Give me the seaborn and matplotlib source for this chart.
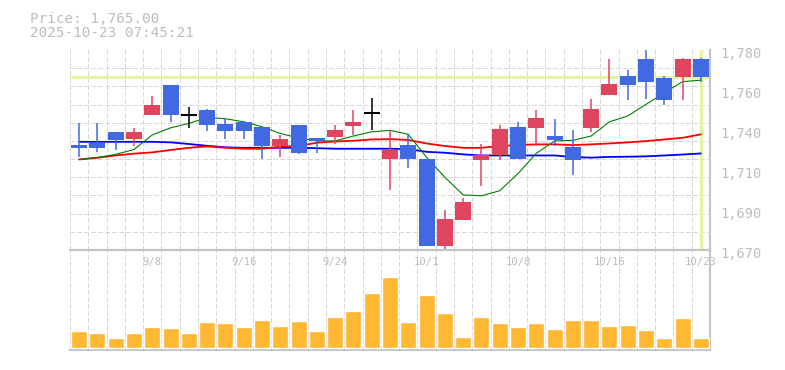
import numpy as np
import pandas as pd
import seaborn as sns
import matplotlib
matplotlib.use('Agg')
import matplotlib.pyplot as plt
from matplotlib.transforms import ScaledTranslation

# trading days shown on the chart
dates = ['9/2', '9/3', '9/4', '9/5', '9/8', '9/9', '9/10', '9/11', '9/12',
         '9/16', '9/17', '9/18', '9/19', '9/22', '9/24', '9/25', '9/26', '9/29', '9/30',
         '10/1', '10/2', '10/3', '10/6', '10/7', '10/8', '10/9', '10/10', '10/14', '10/15',
         '10/16', '10/17', '10/20', '10/21', '10/22', '10/23']
date_labels = ['9/8', '9/16', '9/24', '10/1', '10/8', '10/16', '10/23']

opens = [1728, 1729, 1735, 1731, 1744, 1760.5, 1744.5, 1747, 1739.5,
         1740.5, 1737.5, 1727, 1738.5, 1731.5, 1732, 1738, 1745.5, 1720, 1727.5,
         1720, 1672, 1686.5, 1719.5, 1722, 1737.5, 1737, 1732.5, 1726.5, 1737,
         1755, 1765.5, 1775, 1764.5, 1765, 1775]
highs = [1740, 1740, 1735, 1737, 1754.5, 1760.5, 1748.5, 1747.5, 1742,
         1740.5, 1737.5, 1733.5, 1738.5, 1731.5, 1738.5, 1747, 1753.5, 1736, 1733,
         1720, 1692, 1698.5, 1728.5, 1738.5, 1740.5, 1747, 1742, 1736, 1753,
         1775, 1769, 1780, 1765.5, 1775.5, 1775.5]
lows = [1721, 1724, 1725, 1727, 1744, 1740.5, 1737, 1735.5, 1731,
        1731, 1720, 1721, 1723, 1723.5, 1728.5, 1733, 1736, 1703, 1715,
        1672, 1670.5, 1686.5, 1705, 1719.5, 1720, 1727, 1727, 1711, 1735,
        1755, 1752.5, 1753, 1750, 1752.5, 1762.5]
closes = [1726, 1726, 1730.5, 1735, 1749.5, 1744, 1744.5, 1739, 1735.5,
          1735.5, 1727, 1731, 1723.5, 1730, 1736, 1740.5, 1745.5, 1725, 1720,
          1672, 1687, 1696.5, 1722.5, 1736.5, 1720, 1742.5, 1730.5, 1719.5, 1747.5,
          1761.5, 1761, 1762.5, 1752.5, 1775, 1765]

# moving averages
ma_short = [1719.8, 1720.9, 1722.6, 1725.3, 1733.3, 1737.2, 1739.6, 1742.9, 1742.2,
            1740.5, 1737.8, 1734.1, 1731.6, 1730, 1730, 1732.7, 1735, 1735.8, 1733.6,
            1721, 1710, 1700.3, 1699.8, 1702.6, 1712, 1723.2, 1730, 1730.3, 1732.7,
            1740.5, 1743.7, 1750.1, 1756.5, 1762.6, 1763.4]
ma_mid = [1719.8, 1720.7, 1722, 1723, 1723.7, 1725, 1726.2, 1727, 1726.2,
          1725.7, 1725.7, 1726.8, 1727.2, 1729, 1729.7, 1730.1, 1730.8, 1731, 1730.5,
          1728.6, 1727.2, 1726.2, 1726.2, 1727.2, 1727.7, 1728.1, 1728.1, 1727.7, 1728.1,
          1728.6, 1729.2, 1729.9, 1730.8, 1731.7, 1733.6]
ma_long = [1729.5, 1729.5, 1729.5, 1729.5, 1729.5, 1729.2, 1728.3, 1727.3, 1726.5,
           1726.2, 1726.2, 1726.2, 1726.2, 1726, 1725.7, 1725.7, 1725.7, 1725.7, 1725.5,
           1724, 1723.5, 1722.6, 1722, 1722, 1722, 1722, 1722, 1721.1, 1720.8,
           1721.2, 1721.3, 1721.5, 1722, 1722.5, 1723.1]

# volume (thousand shares)
volumes = [170, 150, 100, 150, 210, 200, 150, 260, 250,
           210, 280, 220, 270, 170, 310, 370, 550, 710, 260,
           530, 350, 110, 310, 250, 210, 250, 190, 280, 280,
           220, 230, 180, 100, 300, 100]

y_ticks = [1780, 1758, 1736, 1714, 1692, 1670]
y_labels = ['1,780', '1,760', '1,740', '1,710', '1,690', '1,670']

last_price = '1,765.00'
timestamp = '2025-10-23 07:45:21'

UP = '#e04560'
DOWN = '#4169e1'
GRID = '#d8d8d8'
SPINE = '#c4c4c4'
TEXT = '#bdbdbd'
HILITE = '#e3f4a6'

sns.set_style('white')
plt.rcParams['font.family'] = ['DejaVu Sans Mono']

df = pd.DataFrame({'date': dates, 'open': opens, 'high': highs, 'low': lows,
                   'close': closes, 'ma_short': ma_short, 'ma_mid': ma_mid,
                   'ma_long': ma_long, 'volume': volumes})
df['pos'] = np.arange(len(df))

fig = plt.figure(figsize=(7.85, 3.7), dpi=100)
ax = fig.add_axes([70 / 785, 120 / 370, 640 / 785, 200 / 370])
ax_vol = fig.add_axes([70 / 785, 20 / 370, 640 / 785, 100 / 370])

# --- price panel ---
ax.axhline(df['close'].iloc[-1], color=HILITE, lw=2.4, zorder=1)
ax.axvline(df['pos'].iloc[-1], ymin=0.012, ymax=1, color=HILITE, lw=2.4, zorder=1)

sns.lineplot(data=df, x='pos', y='ma_long', color='#0000ff', lw=1.3, ax=ax, zorder=2)
sns.lineplot(data=df, x='pos', y='ma_mid', color='#ff0000', lw=1.3, ax=ax, zorder=2)
sns.lineplot(data=df, x='pos', y='ma_short', color='#008000', lw=0.8, ax=ax, zorder=2)

up = df['close'] > df['open']
down = df['close'] < df['open']
doji = df['close'] == df['open']
colors = np.where(up, UP, np.where(down, DOWN, 'black'))

ax.vlines(df['pos'], df['low'], df['high'], colors=colors, lw=1.1, zorder=3)
body_lo = df[['open', 'close']].min(axis=1)
body_h = (df['close'] - df['open']).abs()
ax.bar(df['pos'], body_h, bottom=body_lo, width=0.875, color=colors, lw=0, zorder=4)
dj = df[doji]
ax.hlines(dj['open'], dj['pos'] - 0.44, dj['pos'] + 0.44, colors='black', lw=1.5, zorder=4)

ax.set_xlim(-0.5, len(df) - 0.5)
ax.set_ylim(1670, 1780)
ax.set_xlabel('')
ax.set_ylabel('')
ax.set_xticks(np.arange(-0.5, len(df), 1), minor=True)
ax.set_xticks([])
ax.set_yticks(np.arange(1670, 1781, 10), minor=True)
ax.set_yticks(y_ticks)
ax.set_yticklabels(y_labels)
ax.yaxis.tick_right()
ax.tick_params(which='both', length=0)
ax.tick_params(axis='y', pad=7.3, labelsize=9.8, labelcolor=TEXT)
ax.grid(which='minor', color=GRID, ls=(0, (4, 2)), lw=0.75, antialiased=False)
ax.grid(which='major', visible=False)
ax.set_axisbelow(True)
for side in ['top', 'left']:
    ax.spines[side].set_visible(False)
for side in ['right', 'bottom']:
    ax.spines[side].set_color(SPINE)
    ax.spines[side].set_linewidth(1.5)
shift = ScaledTranslation(0, -2.7 / 100, fig.dpi_scale_trans)
for lbl in ax.get_yticklabels():
    lbl.set_transform(lbl.get_transform() + shift)

# --- volume panel ---
sns.barplot(data=df, x='pos', y='volume', color='#ffb833', saturation=1,
            width=0.875, ax=ax_vol, zorder=3)
ax_vol.set_xlim(-0.5, len(df) - 0.5)
ax_vol.set_ylim(-20, 980)
ax_vol.set_xlabel('')
ax_vol.set_ylabel('')
ax_vol.set_xticks(np.arange(-0.5, len(df), 1), minor=True)
ax_vol.set_xticks([])
ax_vol.set_yticks([])
ax_vol.tick_params(which='both', length=0)
ax_vol.xaxis.grid(True, which='minor', color=GRID, ls=(0, (4, 2)), lw=0.75,
                  antialiased=False)
ax_vol.set_axisbelow(True)
ax_vol.spines['left'].set_visible(False)
for side in ['top', 'right', 'bottom']:
    ax_vol.spines[side].set_color(SPINE)
    ax_vol.spines[side].set_linewidth(1.5)

for d in date_labels:
    ax_vol.text(dates.index(d), 0.88, d, transform=ax_vol.get_xaxis_transform(),
                ha='center', va='center', fontsize=7.6, color=TEXT, zorder=5)

# --- header ---
fig.text(30 / 785, 1 - 22.7 / 370, 'Price: ' + last_price, fontsize=10.3,
         color=TEXT, va='baseline')
fig.text(30 / 785, 1 - 37.3 / 370, timestamp, fontsize=10.3, color=TEXT, va='baseline')

fig.savefig('out.png', dpi=100)
